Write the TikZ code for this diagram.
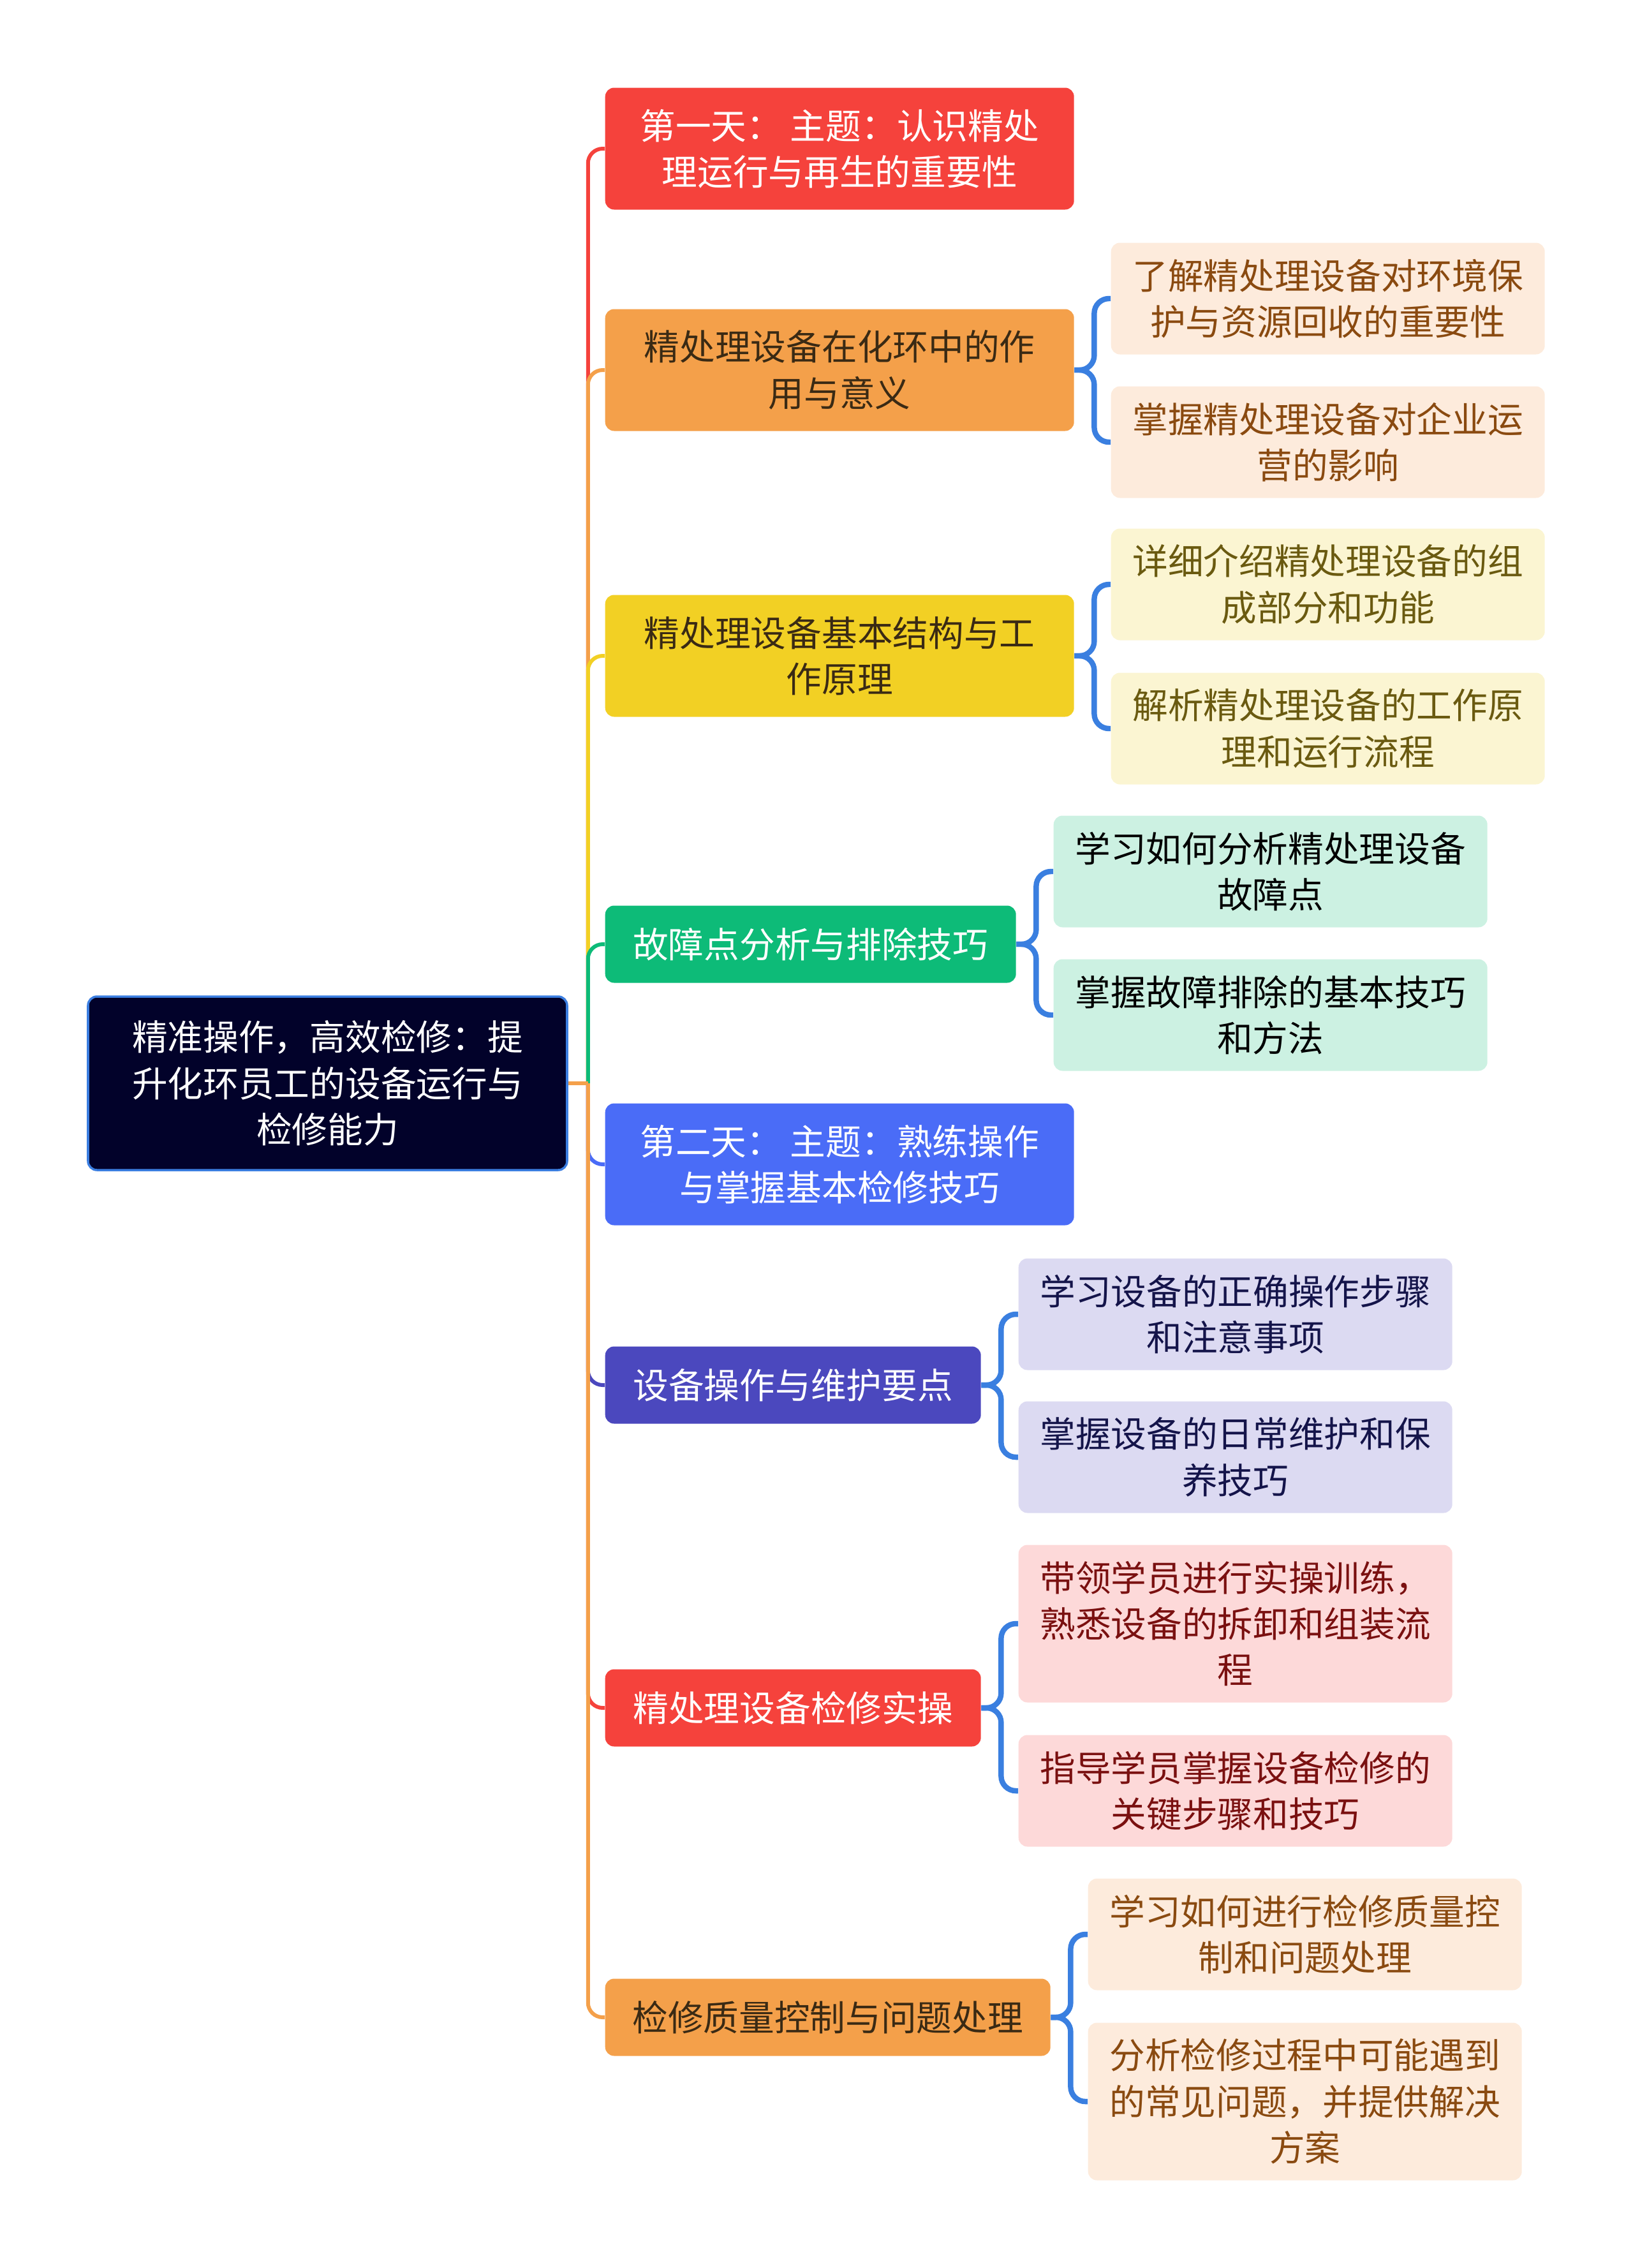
\documentclass[tikz,border=0pt]{standalone}
\usepackage{fontspec}
\setmainfont{Noto Sans CJK SC}
\usepackage{tikz}
\usetikzlibrary{positioning}

\definecolor{rootnavy}{HTML}{02022A}
\definecolor{rootline}{HTML}{3B7EE0}
\definecolor{cred}{HTML}{F5423C}
\definecolor{corange}{HTML}{F4A04A}
\definecolor{cyellow}{HTML}{F2D024}
\definecolor{cgreen}{HTML}{0DBB78}
\definecolor{cblue}{HTML}{4A6CF7}
\definecolor{cindigo}{HTML}{4B48BE}
\definecolor{cbrown}{HTML}{3A2A14}
\definecolor{peach}{HTML}{FDEBDC}
\definecolor{peachtxt}{HTML}{8A4A10}
\definecolor{lyellow}{HTML}{FBF5D2}
\definecolor{lyellowtxt}{HTML}{6A5A10}
\definecolor{mint}{HTML}{CCF1E2}
\definecolor{lavender}{HTML}{DCDAF2}
\definecolor{lavtxt}{HTML}{14144A}
\definecolor{pink}{HTML}{FDD9D9}
\definecolor{pinktxt}{HTML}{7A1010}
\definecolor{bracket}{HTML}{3A7FE0}

\begin{document}
\begin{tikzpicture}[every node/.style={font=\fontsize{15.85}{20.6}\selectfont, align=center},
  topic/.style={rounded corners=0.14cm, inner xsep=0.38cm, anchor=west, minimum height=1.21cm},
  twoline/.style={minimum width=7.35cm, minimum height=1.91cm},
  leaf/.style={rounded corners=0.14cm, anchor=west, minimum width=6.80cm, minimum height=1.75cm},
  link/.style={line width=1.7pt, rounded corners=0.23cm},
  sublink/.style={line width=2.4pt, bracket, rounded corners=0.23cm}]
  \useasboundingbox (0,0) rectangle (25.6,-35.55);

  % root
  \node[draw=rootline, line width=1pt, fill=rootnavy, text=white, rounded corners=0.14cm,
        minimum width=7.51cm, minimum height=2.72cm] (root) at (5.135,-16.98)
        {精准操作，高效检修：提\\升化环员工的设备运行与\\检修能力};

  % first level
  \node[topic, twoline, fill=cred, text=white] (t1) at (9.48,-2.33) {第一天： 主题：认识精处\\理运行与再生的重要性};
  \node[topic, twoline, fill=corange, text=cbrown] (t2) at (9.48,-5.80) {精处理设备在化环中的作\\用与意义};
  \node[topic, twoline, fill=cyellow, text=cbrown] (t3) at (9.48,-10.28) {精处理设备基本结构与工\\作原理};
  \node[topic, fill=cgreen, text=white, minimum width=6.44cm] (t4) at (9.48,-14.80) {故障点分析与排除技巧};
  \node[topic, twoline, fill=cblue, text=white] (t5) at (9.48,-18.25) {第二天： 主题：熟练操作\\与掌握基本检修技巧};
  \node[topic, fill=cindigo, text=white, minimum width=5.89cm] (t6) at (9.48,-21.71) {设备操作与维护要点};
  \node[topic, fill=cred, text=white, minimum width=5.89cm] (t7) at (9.48,-26.77) {精处理设备检修实操};
  \node[topic, fill=corange, text=cbrown, minimum width=6.98cm] (t8) at (9.48,-31.62) {检修质量控制与问题处理};

  % second level
  \node[leaf, fill=peach, text=peachtxt] (a21) at (17.41,-4.68) {了解精处理设备对环境保\\护与资源回收的重要性};
  \node[leaf, fill=peach, text=peachtxt] (a22) at (17.41,-6.93) {掌握精处理设备对企业运\\营的影响};
  \node[leaf, fill=lyellow, text=lyellowtxt] (a31) at (17.41,-9.16) {详细介绍精处理设备的组\\成部分和功能};
  \node[leaf, fill=lyellow, text=lyellowtxt] (a32) at (17.41,-11.42) {解析精处理设备的工作原\\理和运行流程};
  \node[leaf, fill=mint, text=black] (a41) at (16.51,-13.66) {学习如何分析精处理设备\\故障点};
  \node[leaf, fill=mint, text=black] (a42) at (16.51,-15.91) {掌握故障排除的基本技巧\\和方法};
  \node[leaf, fill=lavender, text=lavtxt] (a61) at (15.96,-20.60) {学习设备的正确操作步骤\\和注意事项};
  \node[leaf, fill=lavender, text=lavtxt] (a62) at (15.96,-22.84) {掌握设备的日常维护和保\\养技巧};
  \node[leaf, fill=pink, text=pinktxt, minimum height=2.47cm] (a71) at (15.96,-25.45) {带领学员进行实操训练，\\熟悉设备的拆卸和组装流\\程};
  \node[leaf, fill=pink, text=pinktxt] (a72) at (15.96,-28.07) {指导学员掌握设备检修的\\关键步骤和技巧};
  \node[leaf, fill=peach, text=peachtxt] (a81) at (17.05,-30.32) {学习如何进行检修质量控\\制和问题处理};
  \node[leaf, fill=peach, text=peachtxt, minimum height=2.47cm] (a82) at (17.05,-32.94) {分析检修过程中可能遇到\\的常见问题，并提供解决\\方案};

  % connectors
  \coordinate[right=0.31cm of root.east] (trunk);
  \foreach \n/\col in {t1/cred, t2/corange, t3/cyellow, t4/cgreen, t5/cblue, t6/cindigo, t7/cred, t8/corange}
    \draw[link, \col] (trunk) |- (\n.west);
  \draw[link, corange] (root.east) -- (trunk);

  \foreach \p in {t2, t3, t4, t6, t7, t8}
    \coordinate[right=0.31cm of \p.east] (\p-b);
  \foreach \p/\c in {t2/a21, t2/a22, t3/a31, t3/a32, t4/a41, t4/a42, t6/a61, t6/a62, t7/a71, t7/a72, t8/a81, t8/a82}
    \draw[sublink] (\p.east) -- (\p-b) |- (\c.west);
\end{tikzpicture}
\end{document}
